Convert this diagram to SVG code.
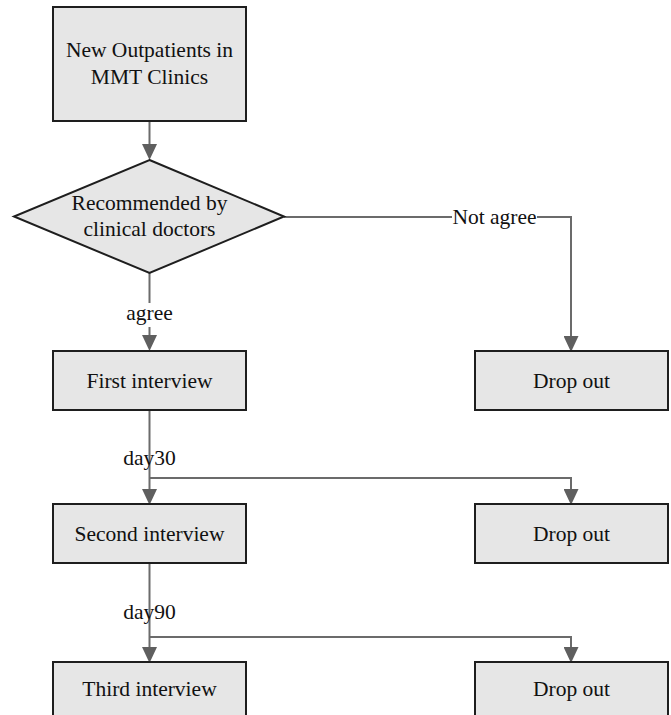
<svg xmlns="http://www.w3.org/2000/svg" width="671" height="715" viewBox="0 0 671 715">
<style>
.box{fill:#e6e6e6;stroke:#1e1e1e;stroke-width:2}
.t{font-family:"Liberation Serif","Times New Roman",serif;font-size:21.5px;fill:#111;text-anchor:middle}
.c{fill:none;stroke:#6b6b6b;stroke-width:2}
.bg{fill:#ffffff}
</style>
<defs>
<marker id="arr" markerUnits="userSpaceOnUse" markerWidth="16" markerHeight="15" refX="13" refY="7.5" orient="auto" viewBox="0 0 16 15">
<path d="M0,0 L16,7.5 L0,15 Z" fill="#5f5f5f"/>
</marker>
</defs>
<rect width="671" height="715" fill="#ffffff"/>
<g id="connectors">
<path class="c" d="M149.5,121 V157" marker-end="url(#arr)"/>
<path class="c" d="M149.5,273 V348" marker-end="url(#arr)"/>
<path class="c" d="M284,217 H571 V349" marker-end="url(#arr)"/>
<path class="c" d="M149.5,410 V502" marker-end="url(#arr)"/>
<path class="c" d="M149.5,478 H571 V502" marker-end="url(#arr)"/>
<path class="c" d="M149.5,563 V660" marker-end="url(#arr)"/>
<path class="c" d="M149.5,637 H571 V660" marker-end="url(#arr)"/>
<rect class="bg" x="124" y="303" width="51" height="24"/>
<text class="t" x="149.5" y="320">agree</text>
<rect class="bg" x="452" y="205" width="85" height="24"/>
<text class="t" x="494.5" y="224">Not agree</text>
<text class="t" x="149.5" y="465">day30</text>
<text class="t" x="149.5" y="619">day90</text>
</g>
<g id="n-outpatients">
<rect class="box" x="53" y="7" width="193" height="114"/>
<text class="t" x="149.5" y="57">New Outpatients in</text>
<text class="t" x="149.5" y="84">MMT Clinics</text>
</g>
<g id="n-recommended">
<polygon class="box" points="149.5,160 284,216.5 149.5,273 14,216.5"/>
<text class="t" x="149.5" y="210">Recommended by</text>
<text class="t" x="149.5" y="236">clinical doctors</text>
</g>
<g id="n-first">
<rect class="box" x="53" y="351" width="193" height="59"/>
<text class="t" x="149.5" y="388">First interview</text>
</g>
<g id="n-drop1">
<rect class="box" x="475" y="351" width="193" height="59"/>
<text class="t" x="571.5" y="388">Drop out</text>
</g>
<g id="n-second">
<rect class="box" x="53" y="504" width="193" height="59"/>
<text class="t" x="149.5" y="541">Second interview</text>
</g>
<g id="n-drop2">
<rect class="box" x="475" y="504" width="193" height="59"/>
<text class="t" x="571.5" y="541">Drop out</text>
</g>
<g id="n-third">
<rect class="box" x="53" y="662" width="193" height="59"/>
<text class="t" x="149.5" y="696">Third interview</text>
</g>
<g id="n-drop3">
<rect class="box" x="475" y="662" width="193" height="59"/>
<text class="t" x="571.5" y="696">Drop out</text>
</g>
</svg>
